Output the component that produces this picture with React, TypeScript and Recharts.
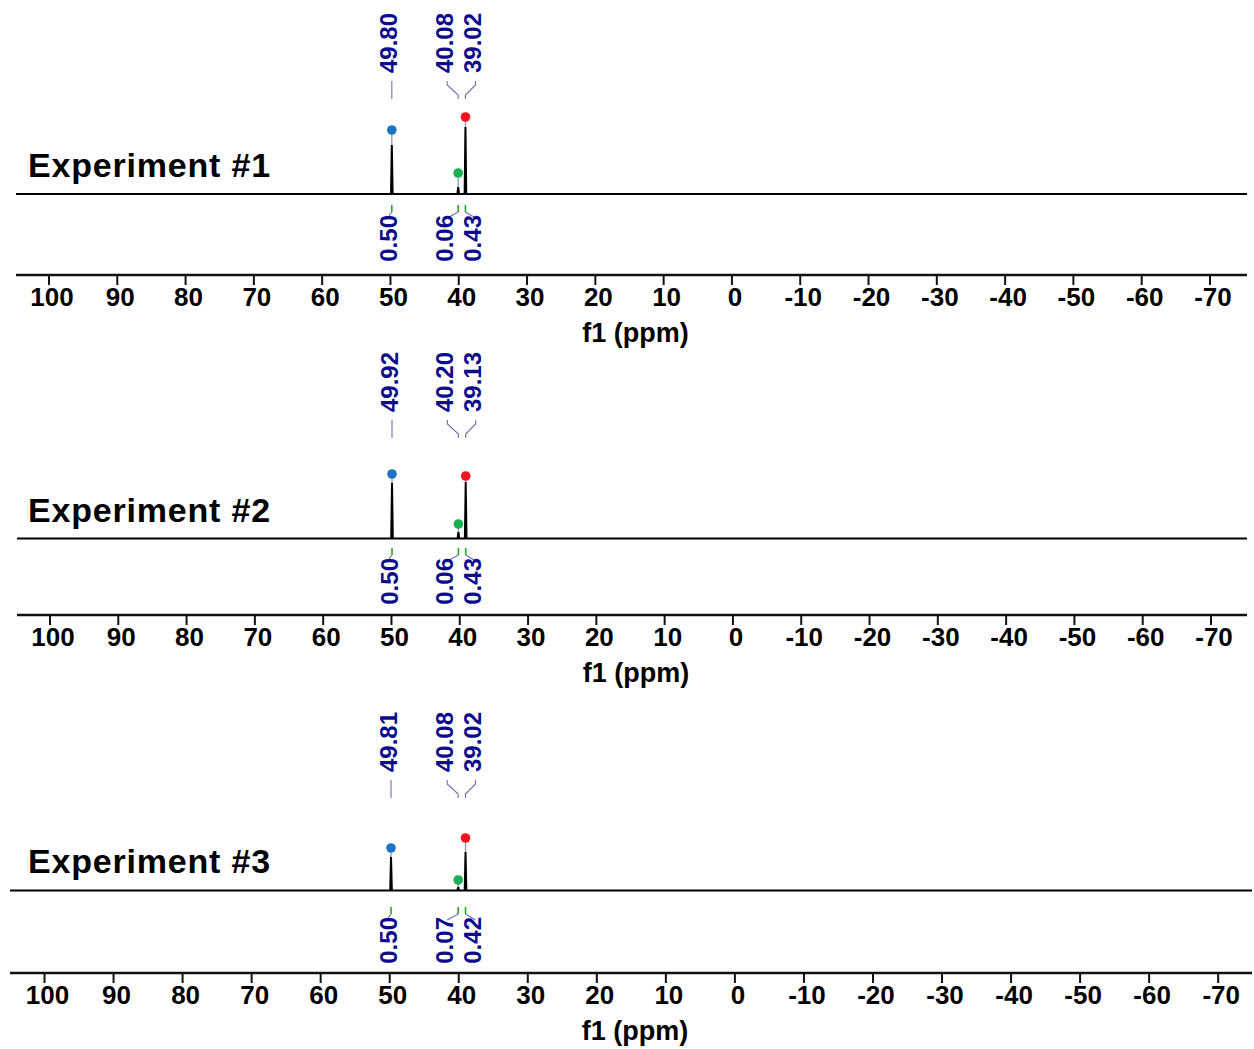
import React from 'react';
import { ComposedChart, Line, Scatter, XAxis, YAxis } from 'recharts';

const TICKS = [100, 90, 80, 70, 60, 50, 40, 30, 20, 10, 0, -10, -20, -30, -40, -50, -60, -70];

// Experiment #1
const exp1Shifts = [49.8, 40.08, 39.02];
const exp1Heights = [49, 7, 67]; // black peak tip above baseline
const exp1Markers = [64, 21, 77]; // coloured dot
const exp1Integrals = ['0.50', '0.06', '0.43'];

// Experiment #2
const exp2Shifts = [49.92, 40.2, 39.13];
const exp2Heights = [55.5, 6.5, 56.5];
const exp2Markers = [64.5, 14.5, 62.5];
const exp2Integrals = ['0.50', '0.06', '0.43'];

// Experiment #3
const exp3Shifts = [49.81, 40.08, 39.02];
const exp3Heights = [33.5, 3.5, 38.5];
const exp3Markers = [42.5, 10.5, 52.5];
const exp3Integrals = ['0.50', '0.07', '0.42'];

const markerColors = ['#1a74c6', '#19b050', '#f5121c'];

const LABEL_COLOR = '#0c0c8c';
const BRACKET_COLOR = '#6e6eb2';
const FONT = '"Liberation Sans", Arial, sans-serif';

interface PanelProps {
  title: string;
  shifts: number[];
  heights: number[];
  markers: number[];
  integrals: string[];
  top: number;
  plotHeight: number;
  left: number;
  right: number;
  xDomain: [number, number];
  yDomain: [number, number];
  labelLevel: number;
  integralLevel: number;
  titleY: number;
}

// spread labels of peaks that sit close together
const labelShift = (shifts: number[], i: number) => {
  if (i + 1 < shifts.length && Math.abs(shifts[i] - shifts[i + 1]) < 3) return -11;
  if (i > 0 && Math.abs(shifts[i] - shifts[i - 1]) < 3) return 10;
  return 0;
};

const MarkerDot = (props: any) => {
  const { cx, cy, payload } = props;
  return (
    <g>
      <line x1={cx} y1={cy} x2={cx} y2={cy + payload.gap} stroke="#8a8ac6" strokeWidth={1.2} />
      <circle cx={cx} cy={cy} r={4.8} fill={payload.color} />
    </g>
  );
};

const PeakLabel = (props: any) => {
  const { cx, cy, payload } = props;
  const dx = payload.dx;
  const tx = cx + dx + 5.5;
  const ty = cy - 26;
  const d =
    dx === 0
      ? `M${cx},${cy}V${cy - 18}`
      : `M${cx},${cy}V${cy - 4}L${cx + dx},${cy - 14}V${cy - 18}`;
  return (
    <g>
      <path d={d} stroke={BRACKET_COLOR} strokeWidth={1.1} fill="none" />
      <text
        x={tx}
        y={ty}
        transform={`rotate(-90 ${tx} ${ty})`}
        fill={LABEL_COLOR}
        fontSize={24}
        fontWeight="bold"
        textAnchor="start"
      >
        {payload.text}
      </text>
    </g>
  );
};

const IntegralLabel = (props: any) => {
  const { cx, cy, payload } = props;
  const dx = payload.dx;
  const tx = cx + dx + 5.5;
  const ty = cy + 10;
  const lead =
    dx === 0 ? `M${cx},${cy + 7}L${cx - 3},${cy + 11}` : `M${cx},${cy + 7}L${cx + dx},${cy + 13}`;
  return (
    <g>
      <line x1={cx} y1={cy} x2={cx} y2={cy + 7} stroke="#2aa52a" strokeWidth={1.6} />
      <path d={lead} stroke={BRACKET_COLOR} strokeWidth={1.1} fill="none" />
      <text
        x={tx}
        y={ty}
        transform={`rotate(-90 ${tx} ${ty})`}
        fill={LABEL_COLOR}
        fontSize={24}
        fontWeight="bold"
        textAnchor="end"
      >
        {payload.text}
      </text>
    </g>
  );
};

const SpectrumPanel: React.FC<PanelProps> = (p) => {
  const xAxisHeight = 70;
  const bottomPad = 10;
  const width = 1254;
  const height = p.plotHeight + xAxisHeight + bottomPad;
  const pxPerUnit = p.plotHeight / (p.yDomain[1] - p.yDomain[0]);

  // baseline with a sharp line for each peak
  const spectrum: { ppm: number; y: number }[] = [{ ppm: p.xDomain[1], y: 0 }];
  p.shifts.forEach((s, i) => {
    spectrum.push({ ppm: s + 0.12, y: 0 }, { ppm: s, y: p.heights[i] }, { ppm: s - 0.12, y: 0 });
  });
  spectrum.push({ ppm: p.xDomain[0], y: 0 });

  const dots = p.shifts.map((s, i) => ({
    ppm: s,
    y: p.markers[i],
    gap: (p.markers[i] - p.heights[i]) * pxPerUnit,
    color: markerColors[i],
  }));
  const labels = p.shifts.map((s, i) => ({
    ppm: s,
    y: p.labelLevel,
    text: s.toFixed(2),
    dx: labelShift(p.shifts, i),
  }));
  const integrals = p.shifts.map((s, i) => ({
    ppm: s,
    y: p.integralLevel,
    text: p.integrals[i],
    dx: labelShift(p.shifts, i),
  }));

  return (
    <div style={{ position: 'absolute', left: 0, top: p.top, width, height }}>
      <ComposedChart
        width={width}
        height={height}
        margin={{ top: 0, right: width - p.right, left: p.left, bottom: bottomPad }}
      >
        <XAxis
          dataKey="ppm"
          type="number"
          domain={p.xDomain}
          reversed
          allowDataOverflow
          ticks={TICKS}
          interval={0}
          height={xAxisHeight}
          axisLine={{ stroke: '#111', strokeWidth: 2.5 }}
          tickLine={{ stroke: '#111', strokeWidth: 2 }}
          tickSize={10}
          tickMargin={3}
          tick={{ fill: '#000', fontSize: 26, fontWeight: 'bold', dx: 3 }}
          label={{
            value: 'f1 (ppm)',
            position: 'insideBottom',
            offset: 3,
            dx: 4,
            fill: '#000',
            fontSize: 27,
            fontWeight: 'bold',
          }}
        />
        <YAxis dataKey="y" type="number" domain={p.yDomain} allowDataOverflow hide />
        <Line
          data={spectrum}
          dataKey="y"
          type="linear"
          stroke="#000"
          strokeWidth={2}
          dot={false}
          activeDot={false}
          isAnimationActive={false}
        />
        <Scatter data={dots} dataKey="y" shape={MarkerDot} isAnimationActive={false} />
        <Scatter data={labels} dataKey="y" shape={PeakLabel} isAnimationActive={false} />
        <Scatter data={integrals} dataKey="y" shape={IntegralLabel} isAnimationActive={false} />
      </ComposedChart>
      <svg
        width={width}
        height={height}
        style={{ position: 'absolute', left: 0, top: 0, pointerEvents: 'none' }}
      >
        <text x={28} y={p.titleY - p.top} fontSize={34} fontWeight="bold" letterSpacing={0.8} fill="#000">
          {p.title}
        </text>
      </svg>
    </div>
  );
};

export default function App() {
  return (
    <div
      style={{
        position: 'absolute',
        left: 0,
        top: 0,
        width: 1254,
        height: 1049,
        background: '#fff',
        fontFamily: FONT,
        overflow: 'hidden',
      }}
    >
      <SpectrumPanel
        title="Experiment #1"
        shifts={exp1Shifts}
        heights={exp1Heights}
        markers={exp1Markers}
        integrals={exp1Integrals}
        top={0}
        plotHeight={275}
        left={16}
        right={1247}
        xDomain={[-75.42, 104.83]}
        yDomain={[-81, 194]}
        labelLevel={95}
        integralLevel={-11}
        titleY={177}
      />
      <SpectrumPanel
        title="Experiment #2"
        shifts={exp2Shifts}
        heights={exp2Heights}
        markers={exp2Markers}
        integrals={exp2Integrals}
        top={345}
        plotHeight={270}
        left={17}
        right={1247}
        xDomain={[-75.27, 104.83]}
        yDomain={[-76.5, 193.5]}
        labelLevel={100.5}
        integralLevel={-9.5}
        titleY={522}
      />
      <SpectrumPanel
        title="Experiment #3"
        shifts={exp3Shifts}
        heights={exp3Heights}
        markers={exp3Markers}
        integrals={exp3Integrals}
        top={695}
        plotHeight={278}
        left={10}
        right={1252}
        xDomain={[-74.9, 105.0]}
        yDomain={[-82.5, 195.5]}
        labelLevel={92.5}
        integralLevel={-16.5}
        titleY={873}
      />
    </div>
  );
}
